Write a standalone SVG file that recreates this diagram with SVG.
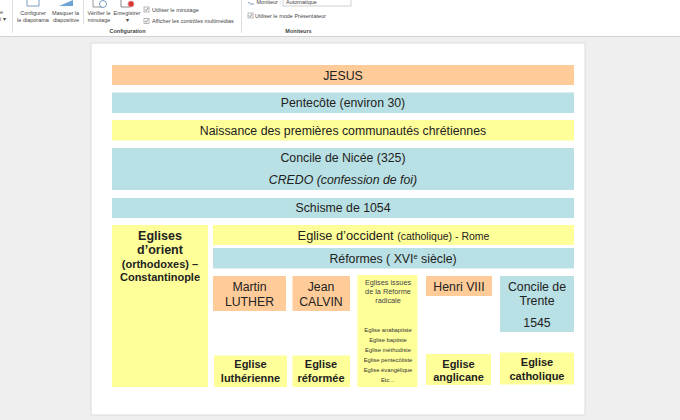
<svg xmlns="http://www.w3.org/2000/svg" width="680" height="420" viewBox="0 0 680 420">
<style>
text{font-family:"Liberation Sans",Arial,sans-serif;text-anchor:middle;fill:#222}
.y{fill:#ffff99}.b{fill:#b9e0e4}.o{fill:#ffcc99}
.t{font-size:12.3px}.bd{font-weight:bold;font-size:11px}
.s{font-size:5.800px;fill:#333}.u{font-size:7.300px;fill:#444}
.m{font-size:5.500px;fill:#444}
.r{font-size:5.500px;fill:#444;text-anchor:start}
.ic{fill:none;stroke:#7a9cc0;stroke-width:1}
.cb{fill:#fff;stroke:#999;stroke-width:.7}
.ck{fill:none;stroke:#666;stroke-width:.7}
</style>
<rect width="680" height="420" fill="#efefef"/>
<g id="ribbon">
<rect width="680" height="36" fill="#fff"/>
<rect y="36" width="680" height="1" fill="#d2d2d2"/>
<path d="M12.500 0V33M83.500 0V24M241.500 0V33" stroke="#ddd" fill="none"/>
<path class="ic" d="M27 0V6H39V0"/>
<path d="M59 6H73V0Z" fill="#6ea3d8"/>
<path d="M93 0V7H102" fill="none" stroke="#999"/><circle cx="103" cy="4" r="3.500" class="ic"/>
<path d="M121 0V7H130" fill="none" stroke="#888"/><circle cx="131" cy="4" r="3" fill="#d33" stroke="#d99"/>
<path class="ic" d="M248 2Q250 5 254 4"/>
<text class="m" x="0" y="14" style="text-anchor:start">e</text>
<text class="m" x="0" y="21" style="text-anchor:start">i ▾</text>
<text class="m" x="33" y="14.500">Configurer</text>
<text class="m" x="33" y="22">le diaporama</text>
<text class="m" x="65.500" y="14.500">Masquer la</text>
<text class="m" x="66" y="22">diapositive</text>
<text class="m" x="99" y="14.500">Vérifier le</text>
<text class="m" x="99" y="22">minutage</text>
<text class="m" x="127" y="15">Enregistrer</text>
<text class="m" x="127" y="22">▾</text>
<rect class="cb" x="144" y="7" width="5" height="5"/><path class="ck" d="M145 9.500L146.200 10.800L148 8"/>
<rect class="cb" x="144" y="18.500" width="5" height="5"/><path class="ck" d="M145 21L146.200 22.300L148 19.500"/>
<rect class="cb" x="248" y="13" width="5" height="5"/><path class="ck" d="M249 15.500L250.200 16.800L252 14"/>
<text class="r" x="152" y="12">Utiliser le minutage</text>
<text class="r" x="152" y="23">Afficher les contrôles multimédias</text>
<text class="r" x="255" y="17.500">Utiliser le mode Présentateur</text>
<text class="r" x="256.500" y="3.500">Moniteur :</text>
<rect x="283" y="-4" width="68" height="10" fill="#fff" stroke="#bbb" stroke-width=".7"/>
<text class="r" x="286" y="3.500">Automatique</text>
<text class="m" x="127.500" y="33" style="font-weight:bold">Configuration</text>
<text class="m" x="298.500" y="33" style="font-weight:bold">Moniteurs</text>
</g>
<g id="slide"><rect x="91" y="43" width="494" height="372" fill="#fff" stroke="#dcdcdc"/></g>
<g id="jesus"><rect class="o" x="112" y="65" width="462" height="20"/><text class="t" x="343" y="80">JESUS</text></g>
<g id="pentecote"><rect class="b" x="112" y="92.500" width="462" height="20.500"/><text class="t" x="343" y="107">Pentecôte (environ 30)</text></g>
<g id="naissance"><rect class="y" x="112" y="120" width="462" height="20.500"/><text class="t" x="343" y="135">Naissance des premières communautés chrétiennes</text></g>
<g id="nicee"><rect class="b" x="112" y="148" width="462" height="42"/><text class="t" x="343" y="162">Concile de Nicée (325)</text><text class="t" x="343" y="184" font-style="italic">CREDO (confession de foi)</text></g>
<g id="schisme"><rect class="b" x="112" y="198" width="462" height="20"/><text class="t" x="343" y="212">Schisme de 1054</text></g>
<g id="orient"><rect class="y" x="112" y="225" width="96" height="162"/>
<text x="160" y="239.500" font-weight="bold" font-size="12.500">Eglises</text><text x="160" y="254" font-weight="bold" font-size="12.500">d’orient</text><text x="160" y="267.500" class="bd">(orthodoxes) –</text><text x="160" y="281" class="bd">Constantinople</text></g>
<g id="occident"><rect class="y" x="213" y="225" width="361" height="20"/><text x="393.500" y="240" font-size="12.800">Eglise d’occident <tspan font-size="10.500">(catholique) - Rome</tspan></text></g>
<g id="reformes"><rect class="b" x="213" y="248" width="361" height="20.500"/><text class="t" x="393" y="263">Réformes ( XVI<tspan font-size="7.500" dy="-4">e</tspan><tspan dy="4"> siècle)</tspan></text></g>
<g id="luther"><rect class="o" x="213" y="276" width="73" height="35"/><text class="t" x="249.500" y="290.500">Martin</text><text class="t" x="249.500" y="305.500">LUTHER</text></g>
<g id="calvin"><rect class="o" x="292.500" y="276" width="57.500" height="35"/><text class="t" x="321" y="290.500">Jean</text><text class="t" x="321" y="305.500">CALVIN</text></g>
<g id="radicale"><rect class="y" x="357.500" y="275" width="60" height="112"/>
<text class="u" x="388" y="285">Eglises issues</text><text class="u" x="388" y="294">de la Réforme</text><text class="u" x="388" y="303">radicale</text>
<text class="s" x="388" y="332">Eglise anabaptiste</text><text class="s" x="388" y="342">Eglise baptiste</text><text class="s" x="388" y="352">Eglise méthodiste</text><text class="s" x="388" y="362">Eglise pentecôtiste</text><text class="s" x="388" y="372">Eglise évangélique</text><text class="s" x="388" y="382">Etc…</text></g>
<g id="henri"><rect class="o" x="426" y="276" width="66" height="20"/><text class="t" x="459" y="290.500">Henri VIII</text></g>
<g id="trente"><rect class="b" x="500" y="276" width="74" height="56"/><text class="t" x="537" y="290.500">Concile de</text><text class="t" x="537" y="305">Trente</text><text class="t" x="537" y="327">1545</text></g>
<g id="lutherienne"><rect class="y" x="214" y="355.500" width="73" height="31.500"/><text class="bd" x="250.500" y="368">Eglise</text><text class="bd" x="250.500" y="381.500">luthérienne</text></g>
<g id="reformee"><rect class="y" x="292.500" y="355.500" width="57.500" height="31.500"/><text class="bd" x="321" y="368">Eglise</text><text class="bd" x="321" y="381.500">réformée</text></g>
<g id="anglicane"><rect class="y" x="426" y="354" width="65" height="31"/><text class="bd" x="458.500" y="367.500">Eglise</text><text class="bd" x="458.500" y="380.500">anglicane</text></g>
<g id="catholique"><rect class="y" x="500" y="352.500" width="74" height="32"/><text class="bd" x="537" y="366">Eglise</text><text class="bd" x="537" y="379.500">catholique</text></g>
<g id="connectors"></g>
</svg>
